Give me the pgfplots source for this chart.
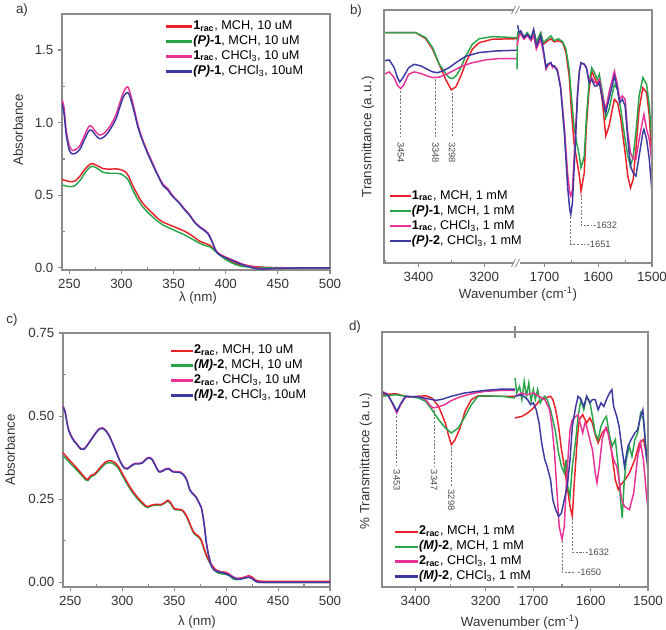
\documentclass[border=0pt]{standalone}
\usepackage{pgfplots}
\pgfplotsset{compat=1.18}
\usepackage{fontspec}
\setmainfont{Liberation Sans}
\definecolor{cred}{RGB}{232,32,40}
\definecolor{cgreen}{RGB}{40,165,75}
\definecolor{cmag}{RGB}{232,50,150}
\definecolor{cblue}{RGB}{60,58,160}
\definecolor{frm}{RGB}{140,140,140}
\definecolor{anncol}{RGB}{120,120,120}
\newcommand{\rac}[1]{\textbf{#1}\textsubscript{\textbf{rac}}}
\newcommand{\enant}[2]{\textbf{\textit{(#1)}-#2}}
\newcommand{\chcl}{CHCl\textsubscript{3}}
\pgfplotsset{
 pan/.style={
  scale only axis, anchor=south west,
  axis line style={draw=frm, line width=0.9pt},
  tick style={draw=frm, line width=0.8pt},
  major tick length=3pt, minor tick length=-2pt,
  tick align=outside, tick pos=left,
  ticklabel style={font=\fontsize{10}{12}\selectfont, text=black!80},
  /pgf/number format/assume math mode=true,
  /pgf/number format/1000 sep={},
  every axis plot/.append style={line width=1.1pt},
  legend cell align=left,
  legend style={draw=none, fill=none, inner sep=0pt, anchor=north west,
    font=\fontsize{9.5}{11}\selectfont,
    nodes={inner sep=0.8pt, text height=7.2pt, text depth=2.4pt}},
 },
 irp/.style={pan, axis line style={draw=none}, ytick=\empty, x dir=reverse, clip=false},
}
\tikzset{ann/.style={anncol, dash pattern=on 1.6pt off 1.2pt, line width=0.5pt},
 annl/.style={font=\fontsize{7}{8}\selectfont, text=black!70, inner sep=0.5pt},
 lab/.style={font=\fontsize{10}{12}\selectfont, text=black!80},
 li/.style={fill=#1, draw=none}}
\begin{document}
\begin{tikzpicture}
\useasboundingbox (0,0) rectangle (499.5pt,-472.5pt);
% ---------------- panel a
\begin{axis}[pan, at={(62*0.75pt,-270*0.75pt)}, width=201pt, height=192pt,
 xmin=243, xmax=500, ymin=-0.014, ymax=1.748,
 xtick={250,300,350,400,450,500}, minor xtick={275,325,375,425,475},
 ytick={0,0.5,1,1.5}, minor ytick={0.25,0.75,1.25},
 yticklabel style={/pgf/number format/.cd, fixed, fixed zerofill, precision=1},
 legend style={at={(0.388,0.981)}},
 legend image code/.code={\fill[#1] (0pt,-0.85pt) rectangle (19.5pt,0.85pt);},
 every axis plot/.append style={smooth}]
\addlegendimage{li=cred}
\addlegendentry{\rac{1}, MCH, 10 uM}
\addlegendimage{li=cgreen}
\addlegendentry{\enant{P}{1}, MCH, 10 uM}
\addlegendimage{li=cmag}
\addlegendentry{\rac{1}, \chcl, 10 uM}
\addlegendimage{li=cblue}
\addlegendentry{\enant{P}{1}, \chcl, 10uM}
\addplot[cred, forget plot] coordinates {(243,0.61)(245,0.605)(250,0.595)(255,0.597)(260,0.63)(265,0.68)(270,0.715)(273,0.717)(278,0.70)(282,0.685)(288,0.68)(295,0.682)(300,0.675)(304,0.66)(307,0.63)(310,0.58)(315,0.51)(320,0.45)(325,0.41)(330,0.375)(335,0.34)(340,0.315)(345,0.30)(350,0.285)(355,0.27)(360,0.255)(365,0.235)(370,0.21)(375,0.185)(380,0.17)(385,0.155)(390,0.12)(395,0.09)(400,0.065)(405,0.045)(410,0.03)(415,0.022)(420,0.018)(425,0.012)(430,0.008)(440,0.004)(450,0.002)(470,0.001)(500,0.0)};
\addplot[cgreen, forget plot] coordinates {(243,0.57)(245,0.568)(250,0.56)(255,0.565)(260,0.60)(265,0.655)(270,0.695)(273,0.70)(278,0.68)(282,0.66)(288,0.652)(295,0.652)(300,0.645)(304,0.625)(307,0.60)(310,0.55)(315,0.48)(320,0.425)(325,0.385)(330,0.35)(335,0.32)(340,0.295)(345,0.278)(350,0.262)(355,0.245)(360,0.23)(365,0.21)(370,0.19)(375,0.17)(380,0.155)(385,0.145)(390,0.115)(395,0.085)(400,0.058)(405,0.038)(410,0.022)(415,0.012)(420,0.008)(430,0.003)(450,0.0)(500,0.0)};
\addplot[cmag, forget plot] coordinates {(243,1.16)(245,1.10)(247,0.95)(250,0.84)(253,0.81)(256,0.815)(260,0.84)(265,0.92)(268,0.965)(270,0.98)(272,0.97)(275,0.94)(279,0.915)(283,0.925)(287,0.955)(291,1.0)(295,1.06)(299,1.15)(302,1.21)(305,1.245)(307,1.235)(310,1.16)(313,1.07)(316,0.98)(320,0.89)(325,0.80)(330,0.72)(335,0.64)(340,0.575)(344,0.55)(347,0.52)(350,0.49)(355,0.455)(360,0.41)(365,0.37)(370,0.32)(375,0.285)(380,0.26)(383,0.24)(386,0.20)(390,0.13)(393,0.10)(397,0.085)(400,0.075)(405,0.06)(410,0.045)(415,0.03)(420,0.018)(425,0.008)(430,0.0)(435,-0.005)(440,-0.005)(450,-0.002)(470,0.0)(500,0.0)};
\addplot[cblue, forget plot] coordinates {(243,1.13)(245,1.06)(247,0.92)(250,0.81)(253,0.785)(256,0.79)(260,0.815)(265,0.89)(268,0.935)(270,0.95)(272,0.945)(275,0.915)(279,0.89)(283,0.90)(287,0.93)(291,0.975)(295,1.03)(299,1.12)(302,1.18)(305,1.205)(307,1.20)(310,1.135)(313,1.05)(316,0.965)(320,0.88)(325,0.79)(330,0.71)(335,0.635)(340,0.565)(344,0.54)(347,0.51)(350,0.485)(355,0.45)(360,0.405)(365,0.365)(370,0.315)(375,0.28)(380,0.255)(383,0.235)(386,0.195)(390,0.125)(393,0.095)(397,0.08)(400,0.07)(405,0.055)(410,0.04)(415,0.025)(420,0.012)(425,0.003)(430,-0.005)(435,-0.008)(440,-0.006)(450,-0.003)(470,0.0)(500,0.0)};
\end{axis}
% ---------------- panel c
\begin{axis}[pan, at={(63*0.75pt,-587*0.75pt)}, width=200.25pt, height=190.5pt,
 xmin=243, xmax=500, ymin=-0.014, ymax=0.75,
 xtick={250,300,350,400,450,500}, minor xtick={275,325,375,425,475},
 ytick={0,0.25,0.5,0.75}, minor ytick={0.125,0.375,0.625},
 yticklabel style={/pgf/number format/.cd, fixed, fixed zerofill, precision=2},
 legend style={at={(0.404,0.961)}},
 legend image code/.code={\fill[#1] (0pt,-0.85pt) rectangle (16.5pt,0.85pt);},
 every axis plot/.append style={smooth}]
\addlegendimage{li=cred}
\addlegendentry{\rac{2}, MCH, 10 uM}
\addlegendimage{li=cgreen}
\addlegendentry{\enant{M}{2}, MCH, 10 uM}
\addlegendimage{li=cmag}
\addlegendentry{\rac{2}, \chcl, 10 uM}
\addlegendimage{li=cblue}
\addlegendentry{\enant{M}{2}, \chcl, 10uM}
\addplot[cgreen, forget plot] coordinates {(243,0.38)(245,0.375)(250,0.358)(255,0.342)(260,0.325)(265,0.308)(267,0.306)(270,0.318)(273,0.322)(276,0.331)(280,0.345)(284,0.357)(288,0.36)(292,0.356)(296,0.344)(300,0.322)(305,0.294)(310,0.27)(315,0.25)(320,0.234)(324,0.225)(328,0.23)(333,0.232)(337,0.232)(341,0.238)(344,0.244)(347,0.235)(350,0.22)(354,0.218)(358,0.215)(362,0.197)(366,0.167)(369,0.147)(373,0.137)(376,0.125)(379,0.097)(382,0.072)(385,0.055)(388,0.04)(391,0.03)(395,0.026)(400,0.024)(403,0.02)(407,0.01)(410,0.008)(414,0.01)(418,0.013)(422,0.016)(425,0.012)(428,0.004)(432,0.0)(440,0.0)(500,0.0)};
\addplot[cred, forget plot] coordinates {(243,0.39)(245,0.383)(250,0.365)(255,0.348)(260,0.33)(265,0.312)(267,0.31)(270,0.322)(273,0.325)(276,0.335)(280,0.35)(284,0.362)(288,0.366)(292,0.362)(296,0.35)(300,0.328)(305,0.30)(310,0.275)(315,0.255)(320,0.238)(324,0.228)(328,0.232)(333,0.235)(337,0.234)(341,0.24)(344,0.247)(347,0.238)(350,0.222)(354,0.22)(358,0.217)(362,0.2)(366,0.17)(369,0.15)(373,0.14)(376,0.128)(379,0.1)(382,0.075)(385,0.058)(388,0.045)(391,0.036)(395,0.032)(400,0.03)(403,0.025)(407,0.015)(410,0.012)(414,0.013)(418,0.016)(422,0.02)(425,0.016)(428,0.008)(432,0.004)(440,0.003)(460,0.003)(500,0.003)};
\addplot[cmag, forget plot] coordinates {(243,0.53)(245,0.515)(248,0.465)(252,0.435)(256,0.418)(260,0.403)(263,0.402)(266,0.412)(270,0.43)(274,0.448)(278,0.463)(281,0.465)(284,0.458)(287,0.445)(290,0.425)(294,0.395)(298,0.365)(302,0.345)(305,0.343)(308,0.35)(312,0.358)(316,0.358)(320,0.362)(323,0.372)(326,0.376)(329,0.37)(332,0.352)(335,0.335)(338,0.335)(342,0.342)(345,0.343)(348,0.335)(352,0.333)(356,0.332)(359,0.325)(362,0.31)(365,0.28)(368,0.268)(371,0.258)(374,0.24)(376,0.228)(378,0.195)(379.5,0.16)(381,0.12)(383,0.085)(386,0.05)(389,0.038)(393,0.033)(398,0.03)(402,0.025)(406,0.018)(410,0.012)(414,0.012)(418,0.015)(422,0.017)(425,0.013)(428,0.006)(432,0.002)(440,0.0)(500,0.0)};
\addplot[cblue, forget plot] coordinates {(243,0.527)(245,0.512)(248,0.462)(252,0.432)(256,0.416)(260,0.401)(263,0.4)(266,0.41)(270,0.428)(274,0.446)(278,0.461)(281,0.463)(284,0.456)(287,0.443)(290,0.423)(294,0.393)(298,0.363)(302,0.343)(305,0.341)(308,0.348)(312,0.356)(316,0.356)(320,0.36)(323,0.37)(326,0.374)(329,0.368)(332,0.35)(335,0.333)(338,0.333)(342,0.34)(345,0.341)(348,0.333)(352,0.331)(356,0.33)(359,0.323)(362,0.308)(365,0.278)(368,0.266)(371,0.256)(374,0.238)(376,0.226)(378,0.193)(379.5,0.158)(381,0.118)(383,0.083)(386,0.048)(389,0.036)(393,0.031)(398,0.028)(402,0.023)(406,0.016)(410,0.01)(414,0.01)(418,0.013)(422,0.015)(425,0.011)(428,0.004)(432,0.0)(440,0.0)(500,0.0)};
\end{axis}
% ---------------- panel b left
\begin{axis}[irp, at={(384*0.75pt,-263*0.75pt)}, width=99.75pt, height=189.75pt,
 ymin=2.8, ymax=99.7,
 xmin=3100, xmax=3505, xtick={3400,3200}, minor xtick={3500,3300},
 legend style={at={(0.045,0.295)}},
 legend image code/.code={\fill[#1] (0pt,-0.85pt) rectangle (15.5pt,0.85pt);}]
\addlegendimage{li=cred}
\addlegendentry{\rac{1}, MCH, 1 mM}
\addlegendimage{li=cgreen}
\addlegendentry{\enant{P}{1}, MCH, 1 mM}
\addlegendimage{li=cmag}
\addlegendentry{\rac{1}, \chcl, 1 mM}
\addlegendimage{li=cblue}
\addlegendentry{\enant{P}{2}, \chcl, 1 mM}
\addplot[cred, forget plot] coordinates {(3505,91.0)(3450,91.0)(3408,91.0)(3378,88.7)(3357,84.7)(3337,78.9)(3317,73.1)(3300,69.1)(3286,70.3)(3271,74.4)(3256,79.5)(3236,84.7)(3215,87.2)(3175,88.5)(3100,88.7)};
\addplot[cgreen, forget plot] coordinates {(3505,91.0)(3408,91.0)(3378,89.1)(3357,85.3)(3337,79.0)(3317,75.4)(3307,73.8)(3296,73.4)(3284,74.7)(3271,77.6)(3256,82.1)(3236,86.6)(3215,88.7)(3175,89.5)(3100,89.1)};
\addplot[cmag, forget plot] coordinates {(3505,75.1)(3489,76.0)(3474,73.8)(3464,70.8)(3454,69.6)(3444,71.2)(3430,75.1)(3413,76.0)(3393,75.4)(3373,74.4)(3357,73.8)(3337,74.0)(3317,75.0)(3296,76.3)(3266,78.3)(3236,79.5)(3195,80.6)(3154,81.1)(3100,81.1)};
\addplot[cblue, forget plot] coordinates {(3505,80.2)(3489,80.6)(3474,77.6)(3464,73.8)(3457,72.1)(3447,73.8)(3430,77.6)(3413,78.9)(3393,78.3)(3373,77.0)(3357,76.0)(3342,75.7)(3327,76.3)(3307,77.6)(3286,79.5)(3256,82.0)(3215,83.4)(3165,84.0)(3100,84.3)};
\draw[ann] (axis cs:3454,68.7) -- (axis cs:3454,51);
\draw[ann] (axis cs:3348,73.1) -- (axis cs:3348,51);
\draw[ann] (axis cs:3298,68.0) -- (axis cs:3298,51);
\node[annl, rotate=-90, anchor=west] at (axis cs:3454,49.5) {3454};
\node[annl, rotate=-90, anchor=west] at (axis cs:3348,49.5) {3348};
\node[annl, rotate=-90, anchor=west] at (axis cs:3298,49.5) {3298};
\end{axis}
% ---------------- panel b right
\begin{axis}[irp, at={(517*0.75pt,-263*0.75pt)}, width=101.25pt, height=189.75pt,
 ymin=2.8, ymax=99.7,
 xmin=1500, xmax=1751, xtick={1700,1600,1500}, minor xtick={1650,1550}]
\addplot[cred] coordinates {(1751,89.8)(1747,90.8)(1744,91.0)(1738,89.1)(1732,90.8)(1725,88.7)(1720,91.7)(1715,87.2)(1707,90.8)(1702,86.6)(1694,87.9)(1688,88.7)(1682,87.5)(1674,87.9)(1666,87.2)(1660,83.4)(1654,74.4)(1650,61.6)(1645,48.8)(1640,42.5)(1635,36.1)(1632,30.3)(1626,37.3)(1622,55.2)(1617,69.3)(1612,76.3)(1607,73.8)(1602,71.2)(1598,73.1)(1592,64.2)(1586,51.4)(1580,55.2)(1570,65.5)(1564,64.2)(1558,57.8)(1550,45.0)(1545,36.1)(1540,31.6)(1535,34.8)(1530,46.3)(1524,61.6)(1517,69.9)(1510,68.0)(1505,59.1)(1500,41.2)};
\addplot[cgreen] coordinates {(1751,77.0)(1750,91.0)(1747,90.4)(1744,91.3)(1738,89.5)(1732,91.0)(1725,89.1)(1720,91.7)(1715,87.5)(1707,91.0)(1702,87.2)(1694,88.7)(1688,89.8)(1682,87.9)(1674,88.7)(1666,87.5)(1660,84.7)(1654,77.0)(1650,66.8)(1645,55.2)(1640,48.8)(1635,43.7)(1632,39.3)(1626,43.7)(1622,58.4)(1617,71.9)(1612,77.6)(1607,75.7)(1602,73.1)(1598,75.1)(1592,68.0)(1586,58.4)(1580,61.6)(1570,71.2)(1564,69.3)(1558,61.6)(1550,50.1)(1545,43.7)(1540,39.9)(1535,43.7)(1530,52.7)(1524,66.8)(1517,73.8)(1510,71.2)(1505,62.9)(1500,48.8)};
\addplot[cmag] coordinates {(1751,85.9)(1747,90.0)(1744,90.4)(1738,88.5)(1732,90.0)(1725,87.9)(1720,89.8)(1715,84.7)(1707,88.5)(1702,83.4)(1697,77.0)(1694,78.3)(1691,78.9)(1688,79.5)(1685,77.6)(1682,78.3)(1676,77.0)(1670,70.6)(1663,55.2)(1657,37.3)(1653,29.7)(1651,28.4)(1648,31.0)(1643,50.1)(1638.5,68.0)(1635,76.3)(1632,79.5)(1626,78.9)(1622,77.6)(1617,72.5)(1612,73.8)(1607,71.9)(1602,71.9)(1598,73.1)(1592,66.8)(1586,61.6)(1580,68.0)(1570,76.3)(1565,71.9)(1560,65.5)(1555,66.8)(1550,65.5)(1545,52.7)(1540,45.0)(1535,42.7)(1530,42.5)(1524,50.1)(1517,57.8)(1515,59.7)(1510,54.0)(1505,50.1)(1500,41.2)};
\addplot[cblue] coordinates {(1751,93.6)(1749.7,93.6)(1747,91.0)(1744,91.7)(1738,89.1)(1732,90.4)(1725,88.7)(1720,92.3)(1715,85.9)(1707,89.8)(1702,84.7)(1697,77.6)(1694,78.9)(1691,79.3)(1688,79.5)(1685,78.3)(1682,78.3)(1676,76.3)(1670,69.9)(1663,52.7)(1657,32.2)(1653,23.3)(1651,21.4)(1648,25.8)(1643,46.3)(1638.5,66.8)(1635,76.3)(1632,79.5)(1626,78.9)(1622,77.6)(1617,71.9)(1612,73.1)(1607,70.6)(1602,70.6)(1598,71.9)(1592,65.5)(1586,60.4)(1580,65.5)(1570,74.4)(1565,69.9)(1560,64.2)(1555,65.5)(1550,62.9)(1545,50.1)(1540,39.9)(1535,37.3)(1530,36.1)(1524,43.7)(1517,52.7)(1515,54.0)(1510,50.1)(1505,42.5)(1500,29.7)};
\draw[ann] (axis cs:1651,20.3) -- (axis cs:1651,9.8) -- (axis cs:1624,9.8);
\draw[ann] (axis cs:1632,29.0) -- (axis cs:1632,17.1) -- (axis cs:1612,17.1);
\node[annl, anchor=west] at (axis cs:1623,9.8) {-1651};
\node[annl, anchor=west] at (axis cs:1611,17.1) {-1632};
\end{axis}
% ---------------- panel d left
\begin{axis}[irp, at={(382*0.75pt,-587*0.75pt)}, width=99.75pt, height=191.25pt,
 ymin=0, ymax=100,
 xmin=3117, xmax=3495, xtick={3400,3200}, minor xtick={3300},
 legend style={at={(0.098,0.247)}},
 legend image code/.code={\fill[#1] (0pt,-0.85pt) rectangle (17pt,0.85pt);}]
\addlegendimage{li=cred}
\addlegendentry{\rac{2}, MCH, 1 mM}
\addlegendimage{li=cgreen}
\addlegendentry{\enant{M}{2}, MCH, 1 mM}
\addlegendimage{li=cmag}
\addlegendentry{\rac{2}, \chcl, 1 mM}
\addlegendimage{li=cblue}
\addlegendentry{\enant{M}{2}, \chcl, 1 mM}
\addplot[cred, forget plot] coordinates {(3495,75.4)(3456,75.8)(3428,74.8)(3409,74.5)(3390,74.8)(3371,75.0)(3353,74.1)(3334,70.8)(3315,64.3)(3306,59.5)(3298,55.8)(3288,57.6)(3273,62.4)(3259,68.9)(3241,73.5)(3222,75.0)(3203,74.8)(3156,74.8)(3117,74.8)};
\addplot[cgreen, forget plot] coordinates {(3495,74.8)(3456,75.4)(3428,74.8)(3390,74.1)(3371,72.8)(3353,69.5)(3334,65.6)(3315,62.4)(3298,60.4)(3278,62.4)(3259,66.9)(3241,71.5)(3222,74.8)(3203,75.0)(3156,74.8)(3117,74.1)};
\addplot[cmag, forget plot] coordinates {(3495,76.7)(3479,75.7)(3464,71.5)(3453,68.2)(3442,71.5)(3428,74.5)(3390,74.8)(3371,73.5)(3360,71.5)(3350,70.2)(3336,70.6)(3317,71.5)(3298,73.1)(3274,74.5)(3241,75.8)(3203,76.7)(3156,77.1)(3117,77.1)};
\addplot[cblue, forget plot] coordinates {(3495,76.3)(3479,75.4)(3464,71.9)(3453,68.9)(3442,71.9)(3428,74.8)(3390,74.5)(3360,73.7)(3341,73.2)(3322,73.7)(3298,74.8)(3260,76.1)(3203,77.1)(3156,77.6)(3117,77.6)};
\draw[ann] (axis cs:3453,67.0) -- (axis cs:3453,47.3);
\draw[ann] (axis cs:3347,69.5) -- (axis cs:3347,47.3);
\draw[ann] (axis cs:3298,55.0) -- (axis cs:3298,39.5);
\node[annl, rotate=-90, anchor=west] at (axis cs:3453,46.3) {3453};
\node[annl, rotate=-90, anchor=west] at (axis cs:3347,46.3) {3347};
\node[annl, rotate=-90, anchor=west] at (axis cs:3298,38.5) {3298};
\end{axis}
% ---------------- panel d right
\begin{axis}[irp, at={(515*0.75pt,-587*0.75pt)}, width=99.75pt, height=191.25pt,
 ymin=0, ymax=100,
 xmin=1500, xmax=1732, xtick={1700,1600,1500}, minor xtick={1650,1550}]
\addplot[cred] coordinates {(1732,66.3)(1720,66.9)(1710,68.2)(1700,70.2)(1690,72.8)(1680,74.1)(1670,74.8)(1666,73.5)(1661,69.5)(1656,63.0)(1651,53.9)(1646,47.3)(1641,39.5)(1636,31.6)(1632,27.7)(1629,39.5)(1623.5,57.8)(1620,65.6)(1614,67.6)(1607,64.3)(1601.5,66.3)(1597,64.3)(1592,59.7)(1587,56.5)(1580,60.4)(1572.5,62.4)(1567,59.1)(1562.5,51.2)(1557,42.1)(1552,38.2)(1548,40.1)(1542,41.4)(1532.5,44.7)(1523,49.9)(1515,56.5)(1508,57.8)(1503,52.5)(1500,53.2)};
\addplot[cgreen] coordinates {(1732,82.0)(1729,76.1)(1724,78.7)(1720,73.5)(1716,80.7)(1712,74.8)(1708,80.0)(1704,72.8)(1700,77.4)(1696.5,73.5)(1692.5,77.4)(1688,72.2)(1684,74.1)(1680,74.8)(1676,73.5)(1670,69.5)(1666,65.6)(1661,60.4)(1656,52.5)(1651,47.3)(1646,44.7)(1643,49.9)(1640,39.5)(1636,35.6)(1632,47.3)(1626,57.8)(1622,66.9)(1617,73.5)(1612,69.5)(1607,74.8)(1601.5,72.8)(1597,66.9)(1592,60.4)(1587,57.8)(1582,63.0)(1577,65.6)(1572.5,66.9)(1567,59.1)(1562.5,55.2)(1557,57.8)(1552,47.3)(1550,40.8)(1548,34.2)(1545,27.1)(1542,39.5)(1538,49.9)(1532.5,55.2)(1528,51.2)(1523,57.8)(1518,60.4)(1513,68.2)(1508,65.6)(1503,52.5)(1500,44.7)};
\addplot[cmag] coordinates {(1732,74.8)(1720,76.1)(1710,75.4)(1700,76.1)(1690,74.8)(1680,73.5)(1671.6,69.5)(1667.5,63.0)(1663,52.5)(1659,38.2)(1655,23.8)(1650,18.6)(1646,23.8)(1643,38.2)(1639,52.5)(1636,61.7)(1632,65.6)(1626,66.9)(1622,67.6)(1617,63.0)(1614,60.4)(1610,64.3)(1607,63.0)(1601.5,57.8)(1597,53.9)(1592,44.7)(1589,40.8)(1585,47.3)(1580,57.8)(1574,62.4)(1570,60.4)(1565.5,55.2)(1560,49.9)(1554.5,47.3)(1550.5,42.1)(1546,34.2)(1541,31.6)(1532.5,30.3)(1525,36.9)(1518,51.2)(1513,56.5)(1508,49.9)(1503,36.9)(1500,30.3)};
\addplot[cblue] coordinates {(1732,74.8)(1720,75.4)(1710,73.5)(1705,71.5)(1700,72.2)(1695,69.5)(1690,64.3)(1685.5,56.5)(1680,49.9)(1676,47.3)(1670,42.1)(1666,34.2)(1661,30.3)(1656,27.7)(1651,29.0)(1646,34.2)(1641,39.5)(1636,49.9)(1632,63.0)(1626,70.8)(1622,74.8)(1617,73.5)(1612,70.8)(1607,74.8)(1601.5,72.2)(1597,73.5)(1592,73.5)(1587,69.5)(1582,72.2)(1577,70.8)(1572.5,73.5)(1567,76.1)(1563,77.4)(1560,70.8)(1554.5,66.9)(1550.5,63.0)(1546,55.2)(1541,47.3)(1535,55.2)(1529.5,57.8)(1523,60.4)(1518,61.7)(1513,66.9)(1509,69.5)(1505,57.8)(1503,51.2)(1500,47.3)};
\draw[ann] (axis cs:1632,27.0) -- (axis cs:1632,13.7) -- (axis cs:1612,13.7);
\draw[ann] (axis cs:1650,17.9) -- (axis cs:1650,5.8) -- (axis cs:1626,5.8);
\node[annl, anchor=west] at (axis cs:1611,13.7) {-1632};
\node[annl, anchor=west] at (axis cs:1625,5.8) {-1650};
\end{axis}
\begin{scope}[x=0.75pt,y=-0.75pt]
% frames and breaks
\draw[frm, line width=0.9pt] (384,10) rectangle (652,263);
\fill[white] (514,6) rectangle (520,14);
\fill[white] (514,259) rectangle (520,267);
\draw[frm, line width=0.6pt] (511.5,14)--(515.5,6) (515.5,14)--(519.5,6);
\draw[frm, line width=0.6pt] (511.5,267)--(515.5,259) (515.5,267)--(519.5,259);
\draw[frm, line width=0.9pt] (382,332) rectangle (648,587);
\draw[frm, line width=1.3pt] (515,326) -- (515,338);
\fill[white] (513.5,584) rectangle (516.5,590);
% labels
\node[lab] at (22,10) {a)};
\node[lab] at (356,11) {b)};
\node[lab] at (12,320) {c)};
\node[lab] at (355,327) {d)};
\node[lab, rotate=90] at (18,130) {Absorbance};
\node[lab, rotate=90] at (10,450) {Absorbance};
\node[lab] at (198,298) {λ (nm)};
\node[lab] at (197,622) {λ (nm)};
\node[lab, rotate=90] at (368,137) {Transmittance (a.\,u.)};
\node[lab, rotate=90] at (366,461) {\% Transmittance (a.\,u.)};
\node[lab] at (518,294) {Wavenumber (cm\textsuperscript{-1})};
\node[lab] at (520,622) {Wavenumber (cm\textsuperscript{-1})};
\end{scope}
\end{tikzpicture}
\end{document}
